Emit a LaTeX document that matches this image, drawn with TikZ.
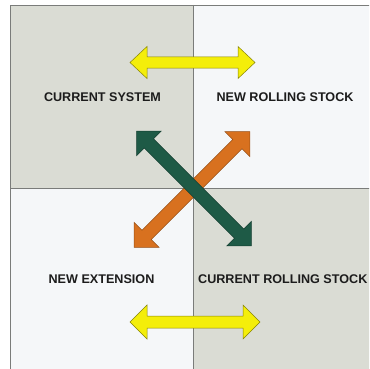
\documentclass[tikz,border=0pt]{standalone}
\usepackage{fontspec}
\setmainfont{Liberation Sans}
\definecolor{quadgray}{HTML}{DADCD4}
\definecolor{quadwhite}{HTML}{F5F7F9}
\definecolor{framegray}{HTML}{7A7C7A}
\definecolor{arrowyellow}{HTML}{F4EE0A}
\definecolor{arrowgreen}{HTML}{1E5A46}
\definecolor{arroworange}{HTML}{D8711F}
\definecolor{labeltext}{HTML}{1C1C1C}
\newcommand\DblArrow[7]{%
  \draw[#1,shift={#2},rotate=#3]
    (-#4,0) -- ({-#4+#5},#6) -- ({-#4+#5},#7) -- ({#4-#5},#7) -- ({#4-#5},#6)
    -- (#4,0) -- ({#4-#5},-#6) -- ({#4-#5},-#7) -- ({-#4+#5},-#7) -- ({-#4+#5},-#6) -- cycle;}
\begin{document}
\begin{tikzpicture}[x=1pt,y=-1pt,
  quadline/.style={draw=framegray,line width=0.9pt},
  arrowshape/.style={line width=0.5pt,line join=miter},
  yellowarrow/.style={arrowshape,fill=arrowyellow,draw=black!45!arrowyellow},
  greenarrow/.style={arrowshape,fill=arrowgreen,draw=black!30!arrowgreen},
  orangearrow/.style={arrowshape,fill=arroworange,draw=black!30!arroworange},
  quadlabel/.style={font=\fontsize{12.6}{14}\selectfont\bfseries,text=labeltext,inner sep=0pt}]
\useasboundingbox (0,0) rectangle (369,369);
\clip (0,0) rectangle (369,369);
\fill[white] (0,0) rectangle (369,369);
% quadrants
\fill[quadgray] (10,5) rectangle (193,188);
\fill[quadwhite] (193,5) rectangle (375,188);
\fill[quadwhite] (10,188) rectangle (193,375);
\fill[quadgray] (193,188) rectangle (375,375);
\draw[quadline] (375,5) -- (10,5) -- (10,375);
\draw[quadline] (193,5) -- (193,375);
\draw[quadline] (10,188) -- (375,188);
% labels
\node[quadlabel] (cursys) at (102.5,97) {CURRENT SYSTEM};
\node[quadlabel] (newrs) at (285,97) {NEW ROLLING STOCK};
\node[quadlabel] (newext) at (101.5,279) {NEW EXTENSION};
\node[quadlabel,anchor=west] (currs) at (198,279) {CURRENT ROLLING STOCK};
% arrows
\DblArrow{yellowarrow}{(192.5,62.5)}{0}{62.5}{17}{16}{5.5}
\DblArrow{yellowarrow}{(195,322)}{0}{65}{17}{17}{6}
\DblArrow{orangearrow}{(192,189.5)}{45}{81.7}{17.5}{17.5}{6.5}
\DblArrow{greenarrow}{(194,188.5)}{-45}{81.3}{17.5}{17.5}{6.5}
\end{tikzpicture}
\end{document}
